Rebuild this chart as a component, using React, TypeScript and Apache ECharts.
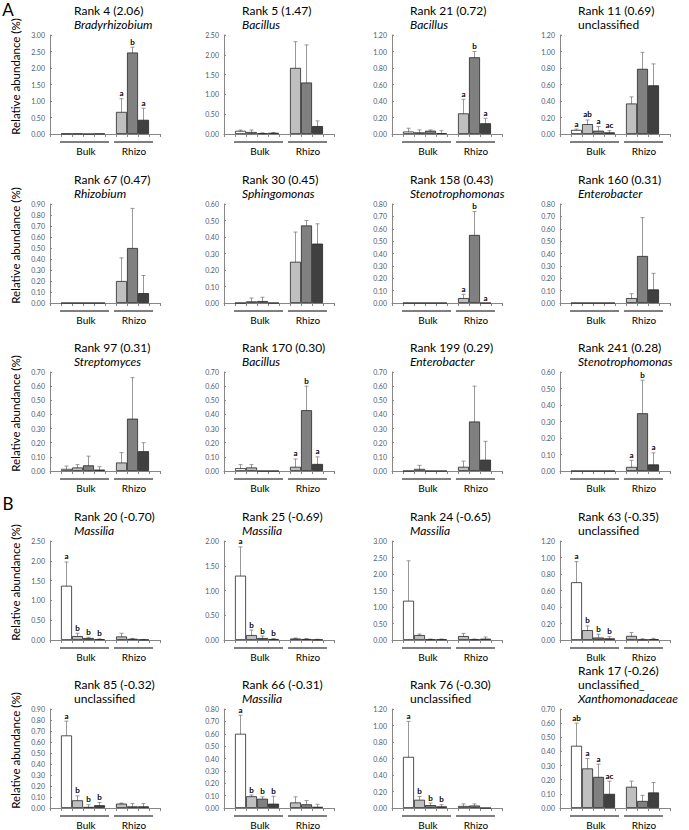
import React, { useEffect, useRef } from "react";
import * as echarts from "echarts";

const rankLabels = [
  "Rank 4 (2.06)", "Rank 5 (1.47)", "Rank 21 (0.72)", "Rank 11 (0.69)",
  "Rank 67 (0.47)", "Rank 30 (0.45)", "Rank 158 (0.43)", "Rank 160 (0.31)",
  "Rank 97 (0.31)", "Rank 170 (0.30)", "Rank 199 (0.29)", "Rank 241 (0.28)",
  "Rank 20 (-0.70)", "Rank 25 (-0.69)", "Rank 24 (-0.65)", "Rank 63 (-0.35)",
  "Rank 85 (-0.32)", "Rank 66 (-0.31)", "Rank 76 (-0.30)", "Rank 17 (-0.26)",
];

const taxonLines = [
  ["Bradyrhizobium"], ["Bacillus"], ["Bacillus"], ["unclassified"],
  ["Rhizobium"], ["Sphingomonas"], ["Stenotrophomonas"], ["Enterobacter"],
  ["Streptomyces"], ["Bacillus"], ["Enterobacter"], ["Stenotrophomonas"],
  ["Massilia"], ["Massilia"], ["Massilia"], ["unclassified"],
  ["unclassified"], ["Massilia"], ["unclassified"], ["unclassified_", "Xanthomonadaceae"],
];

const yMax = [3, 2.5, 1.2, 1.2, 0.9, 0.6, 0.8, 0.8, 0.7, 0.7, 0.7, 0.6, 2.5, 2.0, 3.0, 1.2, 0.9, 0.8, 1.2, 0.7];
const yInterval = [0.5, 0.5, 0.2, 0.2, 0.1, 0.1, 0.1, 0.1, 0.1, 0.1, 0.1, 0.1, 0.5, 0.5, 0.5, 0.2, 0.1, 0.1, 0.2, 0.1];

// [Bulk1, Bulk2, Bulk3, Bulk4, Rhizo1, Rhizo2, Rhizo3]
const means = [
  [0.01, 0.01, 0, 0.01, 0.67, 2.47, 0.43],
  [0.08, 0.05, 0.02, 0.03, 1.67, 1.30, 0.20],
  [0.03, 0.02, 0.04, 0.01, 0.25, 0.93, 0.13],
  [0.05, 0.12, 0.04, 0.02, 0.37, 0.79, 0.59],
  [0, 0, 0, 0, 0.20, 0.50, 0.09],
  [0, 0.01, 0.012, 0, 0.25, 0.47, 0.36],
  [0, 0, 0, 0, 0.04, 0.55, 0],
  [0, 0, 0, 0, 0.04, 0.38, 0.11],
  [0.015, 0.025, 0.04, 0.01, 0.06, 0.37, 0.14],
  [0.02, 0.025, 0, 0, 0.03, 0.43, 0.05],
  [0, 0.015, 0, 0, 0.03, 0.35, 0.08],
  [0, 0, 0, 0, 0.025, 0.35, 0.04],
  [1.37, 0.10, 0.05, 0.02, 0.09, 0.03, 0.01],
  [1.30, 0.10, 0.04, 0.02, 0.03, 0.02, 0.01],
  [1.19, 0.15, 0.02, 0.02, 0.12, 0.02, 0.04],
  [0.70, 0.12, 0.03, 0.02, 0.05, 0.005, 0.01],
  [0.66, 0.07, 0.01, 0.025, 0.04, 0.015, 0.015],
  [0.60, 0.095, 0.075, 0.035, 0.045, 0.03, 0.01],
  [0.62, 0.10, 0.035, 0.02, 0.025, 0.03, 0],
  [0.44, 0.28, 0.22, 0.10, 0.15, 0.05, 0.11],
];

const sds = [
  [0, 0, 0, 0, 0.40, 0.16, 0.35],
  [0.02, 0.05, 0.01, 0.01, 0.66, 0.95, 0.13],
  [0.04, 0.03, 0.01, 0.03, 0.17, 0.07, 0.06],
  [0.01, 0.05, 0.05, 0.02, 0.08, 0.20, 0.26],
  [0, 0, 0, 0, 0.21, 0.36, 0.16],
  [0, 0.02, 0.023, 0, 0.18, 0.03, 0.12],
  [0, 0, 0, 0, 0.03, 0.19, 0],
  [0, 0, 0, 0, 0.035, 0.31, 0.13],
  [0.02, 0.02, 0.065, 0.02, 0.07, 0.29, 0.06],
  [0.025, 0.02, 0, 0, 0.055, 0.17, 0.05],
  [0, 0.025, 0, 0, 0.04, 0.25, 0.13],
  [0, 0, 0, 0, 0.04, 0.20, 0.07],
  [0.60, 0.07, 0.02, 0.01, 0.08, 0.01, 0.005],
  [0.58, 0.10, 0.04, 0.01, 0.01, 0.01, 0.005],
  [1.21, 0.03, 0.01, 0.01, 0.08, 0.01, 0.05],
  [0.25, 0.05, 0.04, 0.02, 0.04, 0.01, 0.01],
  [0.13, 0.04, 0.02, 0.025, 0.005, 0.025, 0.025],
  [0.15, 0.01, 0.015, 0.06, 0.045, 0.03, 0.02],
  [0.43, 0.04, 0.025, 0.02, 0.025, 0.02, 0],
  [0.16, 0.07, 0.09, 0.09, 0.04, 0.04, 0.07],
];

const letters = [
  ["", "", "", "", "a", "b", "a"],
  ["", "", "", "", "", "", ""],
  ["", "", "", "", "a", "b", "a"],
  ["a", "ab", "a", "ac", "", "", ""],
  ["", "", "", "", "", "", ""],
  ["", "", "", "", "", "", ""],
  ["", "", "", "", "a", "b", "a"],
  ["", "", "", "", "", "", ""],
  ["", "", "", "", "", "", ""],
  ["", "", "", "", "a", "b", "a"],
  ["", "", "", "", "", "", ""],
  ["", "", "", "", "a", "b", "a"],
  ["a", "b", "b", "b", "", "", ""],
  ["a", "b", "b", "b", "", "", ""],
  ["", "", "", "", "", "", ""],
  ["a", "b", "b", "b", "", "", ""],
  ["a", "b", "b", "b", "", "", ""],
  ["a", "b", "b", "b", "", "", ""],
  ["a", "b", "b", "b", "", "", ""],
  ["ab", "a", "a", "ac", "", "", ""],
];

const slotNames = ["", "B1", "B2", "B3", "B4", "", "R1", "R2", "R3", " "];
const groupLabels = ["Bulk", "Rhizo"];
const sectionLabels = ["A", "B"];
const yAxisTitle = "Relative abundance (%)";

// layout
const colLeft = [50, 224, 392, 560];
const rowTop = [35, 204, 372, 541, 709];
const plotW = 110;
const plotH = 99;
const valueSlots = [1, 2, 3, 4, 6, 7, 8];
const slotColors = ["#ffffff", "#bfbfbf", "#808080", "#404040", "#bfbfbf", "#808080", "#404040"];
const FONT = "Lato, 'Open Sans', sans-serif";

export default function App() {
  const ref = useRef<HTMLDivElement>(null);
  useEffect(() => {
    if (!ref.current) return;
    const chart = echarts.init(ref.current, undefined, { renderer: "svg" });
    const grid: any[] = [];
    const xAxis: any[] = [];
    const yAxis: any[] = [];
    const series: any[] = [];
    const graphic: any[] = [];

    sectionLabels.forEach((s, k) => {
      graphic.push({
        type: "text", x: 8, y: k === 0 ? 9 : 503,
        style: { text: s, font: `17px ${FONT}`, fill: "#000", align: "center", verticalAlign: "middle" },
      });
    });

    for (let r = 0; r < 5; r++) {
      graphic.push({
        type: "text", x: 15, y: rowTop[r] + plotH / 2 - 8, rotation: Math.PI / 2,
        style: { text: yAxisTitle, font: `11.5px ${FONT}`, fill: "#000", align: "center", verticalAlign: "middle" },
      });
    }

    for (let i = 0; i < 20; i++) {
      const r = Math.floor(i / 4);
      const c = i % 4;
      const left = colLeft[c];
      const top = rowTop[r];
      grid.push({ left, top, width: plotW, height: plotH, containLabel: false });
      xAxis.push({
        type: "category", gridIndex: i, data: slotNames,
        axisLine: { lineStyle: { color: "#868686", width: 1 } },
        axisTick: { show: true, interval: 0, length: 3, lineStyle: { color: "#868686" } },
        axisLabel: { show: false },
      });
      yAxis.push({
        type: "value", gridIndex: i, min: 0, max: yMax[i], interval: yInterval[i],
        axisLine: { show: true, lineStyle: { color: "#868686", width: 1 } },
        axisTick: { show: true, inside: true, length: 2, lineStyle: { color: "#868686" } },
        splitLine: { show: false },
        axisLabel: { fontSize: 7, color: "#595959", fontFamily: FONT, margin: 5, formatter: (v: number) => v.toFixed(2) },
      });
      const barData = slotNames.map(() => null as any);
      valueSlots.forEach((s, k) => {
        barData[s] = { value: means[i][k], itemStyle: { color: slotColors[k] } };
      });
      series.push({
        type: "bar", xAxisIndex: i, yAxisIndex: i, data: barData,
        barCategoryGap: "0%",
        itemStyle: { borderColor: "#262626", borderWidth: 0.8 },
        silent: true,
      });
      const errData = valueSlots.map((s, k) => [s, means[i][k], sds[i][k]]);
      const lets = letters[i];
      series.push({
        type: "custom", xAxisIndex: i, yAxisIndex: i, data: errData, clip: false, silent: true,
        encode: { x: 0, y: 1 },
        renderItem: (params: any, api: any) => {
          const x = api.value(0);
          const m = api.value(1);
          const s = api.value(2);
          const children: any[] = [];
          const topPt = api.coord([x, m + s]);
          const botPt = api.coord([x, Math.max(0, m - s)]);
          const ls = { stroke: "#7f7f7f", lineWidth: 0.8 };
          if (s > 0) {
            children.push({ type: "line", shape: { x1: topPt[0], y1: topPt[1], x2: botPt[0], y2: botPt[1] }, style: ls });
            children.push({ type: "line", shape: { x1: topPt[0] - 2, y1: topPt[1], x2: topPt[0] + 2, y2: topPt[1] }, style: ls });
            if (m - s > 0) {
              children.push({ type: "line", shape: { x1: botPt[0] - 2, y1: botPt[1], x2: botPt[0] + 2, y2: botPt[1] }, style: ls });
            }
          }
          const lt = lets[params.dataIndex];
          if (lt) {
            children.push({
              type: "text", x: topPt[0], y: topPt[1] - 1.5,
              style: { text: lt, font: `bold 8px ${FONT}`, fill: "#000", align: "center", verticalAlign: "bottom" },
            });
          }
          return { type: "group", children };
        },
      });

      // titles
      const lines = [rankLabels[i], ...taxonLines[i]];
      const n = lines.length;
      lines.forEach((t, k) => {
        const italic = k > 0 && !t.startsWith("unclassified");
        graphic.push({
          type: "text", x: left + (c === 0 ? 24 : 18), y: top - 11 - (n - 1 - k) * 14,
          style: {
            text: t, font: `${italic ? "italic " : ""}12px ${FONT}`, fill: "#000",
            align: "left", verticalAlign: "middle",
          },
        });
      });

      // group lines and labels
      const ly = top + plotH + 8;
      graphic.push({ type: "line", shape: { x1: left + 10, y1: ly, x2: left + 59, y2: ly }, style: { stroke: "#000", lineWidth: 1.2 } });
      graphic.push({ type: "line", shape: { x1: left + 64, y1: ly, x2: left + 103, y2: ly }, style: { stroke: "#000", lineWidth: 1.2 } });
      graphic.push({
        type: "text", x: left + 36, y: top + plotH + 17,
        style: { text: groupLabels[0], font: `10px ${FONT}`, fill: "#000", align: "center", verticalAlign: "middle" },
      });
      graphic.push({
        type: "text", x: left + 84, y: top + plotH + 17,
        style: { text: groupLabels[1], font: `10px ${FONT}`, fill: "#000", align: "center", verticalAlign: "middle" },
      });
    }

    chart.setOption({
      animation: false,
      backgroundColor: "#ffffff",
      textStyle: { fontFamily: FONT },
      grid, xAxis, yAxis, series, graphic,
    });
    return () => chart.dispose();
  }, []);
  return <div ref={ref} style={{ position: "fixed", left: 0, top: 0, width: 689, height: 830 }} />;
}
